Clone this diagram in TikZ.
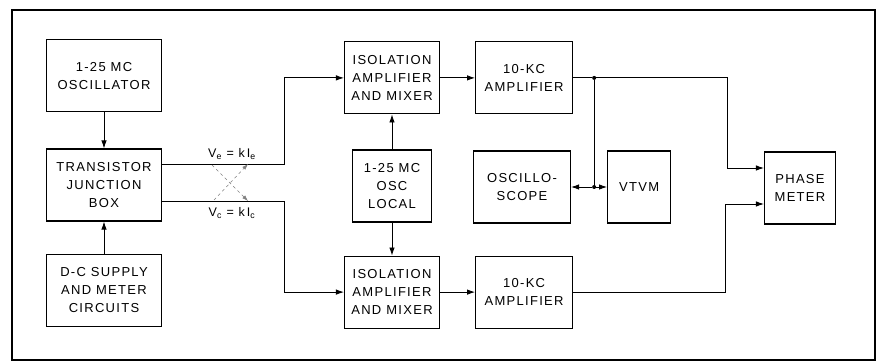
\documentclass[tikz,border=0pt]{standalone}
\usepackage{fontspec}
\setmainfont{Liberation Sans}[LetterSpace=10]
\usetikzlibrary{arrows.meta,positioning,calc}
\tikzset{
block/.style={draw,line width=1.1pt,minimum width=96pt,minimum height=72pt,align=center,inner sep=2pt,font=\fontsize{13}{18}\selectfont},
flow/.style={-{Latex[length=8pt,width=5.5pt]},line width=.85pt},
wire/.style={line width=.85pt},
swap/.style={-{Latex[length=6pt,width=4pt]},dashed,gray,line width=.5pt},
dot/.style={circle,fill,inner sep=0pt,minimum size=4pt},
eqn/.style={font=\fontsize{12.5}{14}\selectfont,inner sep=1pt}
}
\begin{document}
\begin{tikzpicture}[x=1pt,y=-1pt]
\useasboundingbox (0,0) rectangle (879,363);
\draw[line width=1.3pt](12,10) rectangle (875,360);
% left column
\node[block,minimum width=115pt](tjb) at (104,185){TRANSISTOR\\JUNCTION\\BOX};
\node[block,minimum width=115pt,above=36pt of tjb](osc){1-25 MC\\OSCILLATOR};
\node[block,minimum width=115pt,below=32pt of tjb](dc){D-C SUPPLY\\AND METER\\CIRCUITS};
% mixers
\node[block,minimum width=79pt](local) at (392,186){1-25 MC\\OSC\\LOCAL};
\node[block,minimum width=95pt,above=35pt of local](isoa){ISOLATION\\AMPLIFIER\\AND MIXER};
\node[block,minimum width=95pt,below=33pt of local](isob){ISOLATION\\AMPLIFIER\\AND MIXER};
% amplifiers and meters
\node[block,minimum width=97pt,right=35pt of isoa](kca){10-KC\\AMPLIFIER};
\node[block,minimum width=97pt,right=35pt of isob](kcb){10-KC\\AMPLIFIER};
\node[block,minimum width=97pt](scope) at (522,187){OSCILLO-\\SCOPE};
\node[block,minimum width=63pt,right=36pt of scope](vtvm){VTVM};
\node[block,minimum width=71pt](phase) at (800,188){PHASE\\METER};
\draw[flow](osc)--(tjb);
\draw[flow](dc)--(tjb);
\draw[flow](local)--(isoa);
\draw[flow](local)--(isob);
\draw[flow]([yshift=21pt]tjb.east)--++(122,0)|-(isoa.west);
\draw[flow]([yshift=-16pt]tjb.east)--++(122,0)|-(isob.west);
\node[eqn](ve) at (232,154){V\textsubscript{e} = k\,I\textsubscript{e}};
\node[eqn](vc) at (232,213){V\textsubscript{c} = k\,I\textsubscript{c}};
\coordinate(sa) at (212,165);
\coordinate(sb) at (248,201);
\coordinate(sc) at (214,200);
\coordinate(sd) at (248,164);
\draw[swap](sa)--(sb);
\draw[swap](sc)--(sd);
\draw[flow](isoa)--(kca);
\draw[flow](isob)--(kcb);
\node[dot](tap) at ([xshift=21pt]kca.east){};
\node[dot](hub) at (tap|-scope){};
\draw[wire](kca)--(tap);
\draw[wire](tap)--(hub);
\draw[flow](hub)--(scope);
\draw[flow](hub)--(vtvm);
\draw[flow](tap)--++(133,0)|-([yshift=20pt]phase.west);
\draw[flow](kcb.east)--++(152,0)|-([yshift=-16pt]phase.west);
\end{tikzpicture}
\end{document}
